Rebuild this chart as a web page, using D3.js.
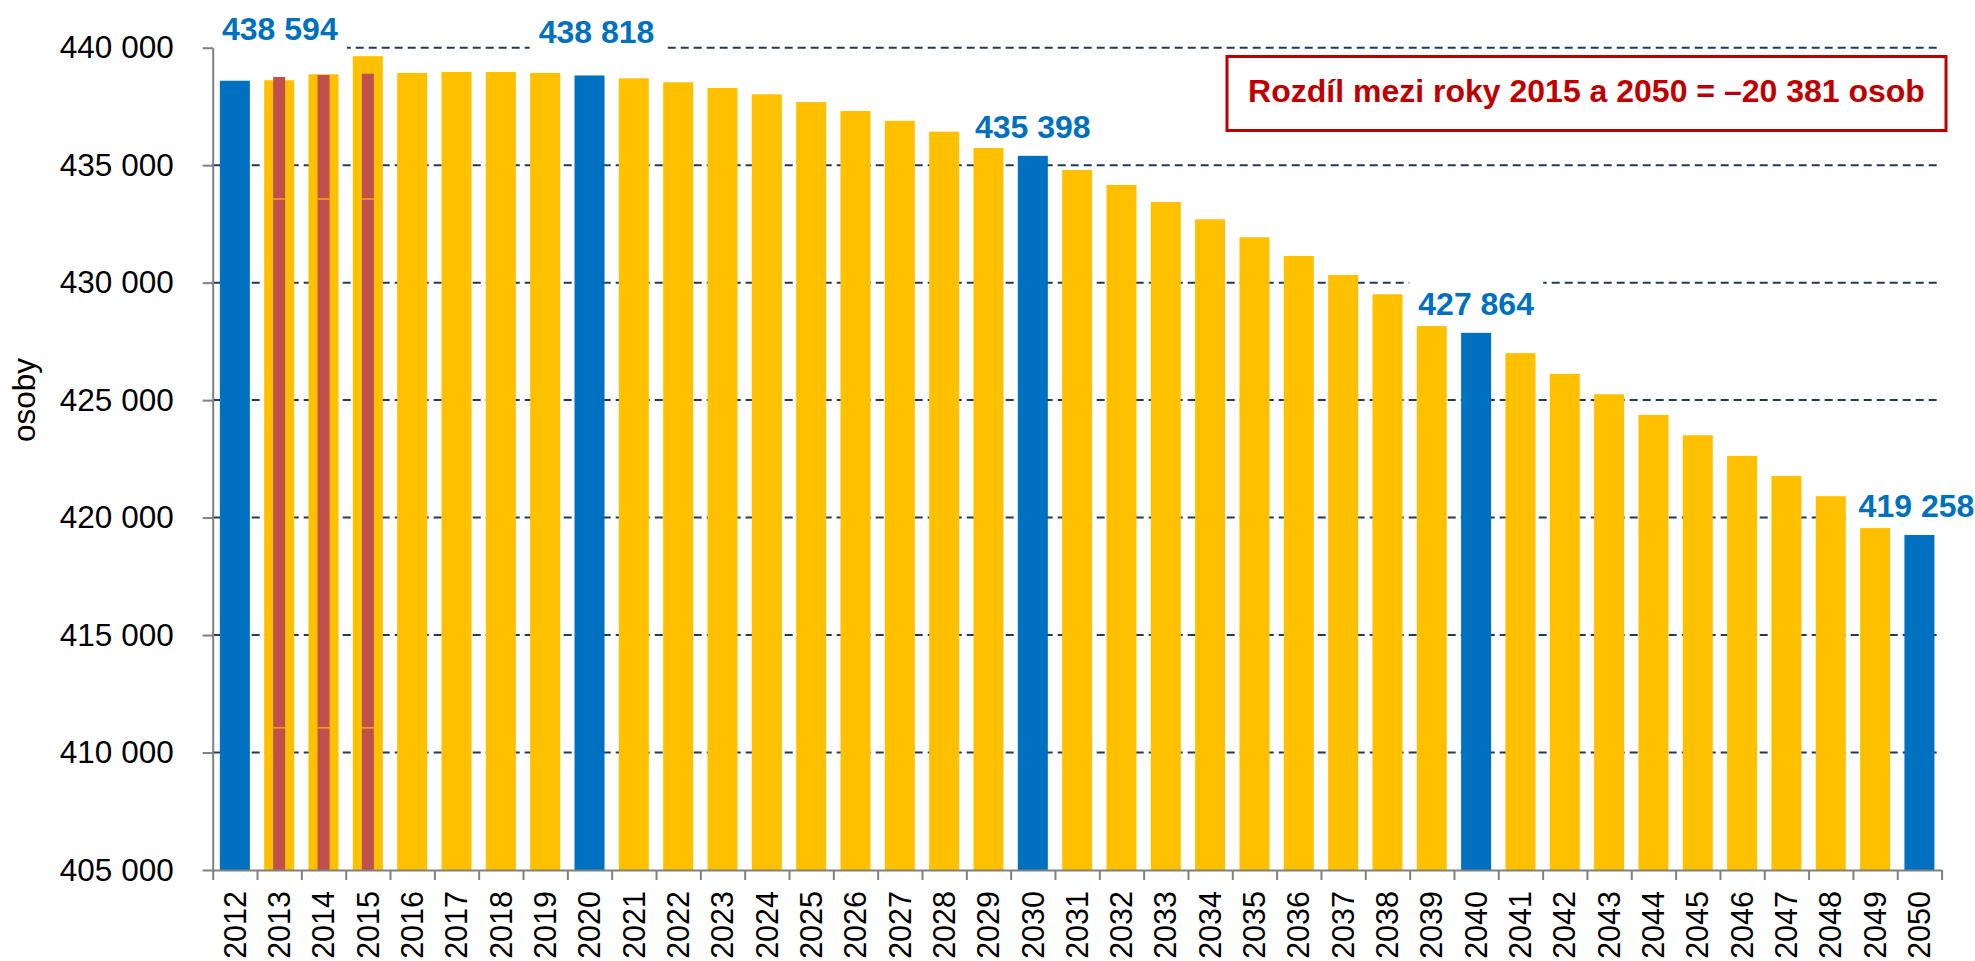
<!DOCTYPE html>
<html>
<head>
<meta charset="utf-8">
<script src="https://cdn.jsdelivr.net/npm/d3@7"></script>
<style>
  body { margin: 0; background: #fff; }
  svg { display: block; font-family: "Liberation Sans", Arial, sans-serif; }
</style>
</head>
<body>
<div id="chart"></div>
<script>
const years = d3.range(2012, 2051);
const population = [
  438594, 438613, 438868, 439639, 438923, 438966, 438966, 438923, 438818, 438698,
  438528, 438285, 438017, 437685, 437306, 436885, 436426, 435732, 435398, 434796,
  434157, 433434, 432697, 431931, 431136, 430327, 429506, 428157, 427864, 427000,
  426120, 425250, 424370, 423505, 422625, 421774, 420909, 419553, 419258
];
const highlightYears = [2012, 2020, 2030, 2040, 2050];
const stripeYears = [2013, 2014, 2015];
const stripeValues = [438753, 438838, 438894];
const stripeSeams = [433560, 411050];
const yTicks = [405000, 410000, 415000, 420000, 425000, 430000, 435000, 440000];
const note = "Rozdíl mezi roky 2015 a 2050 = –20 381 osob";

// label nudges (px) relative to default spot above the bar
const labelNudge = { 2012: [45, -23], 2020: [7, -14], 2030: [0, 0], 2040: [0, 0], 2050: [-3, 0] };

const width = 1975, height = 961;
const plot = { left: 212.7, right: 1941.6, top: 47.7, bottom: 870 };

const svg = d3.select('#chart')
  .append('svg')
    .attr('width', width)
    .attr('height', height);

const data = years.map((y, i) => ({ year: y, value: population[i] }));
const fmt = v => d3.format(',')(v).replace(/,/g, ' ');

const x = d3.scaleBand()
  .domain(years)
  .range([plot.left, plot.right])
  .paddingInner(0.323)
  .paddingOuter(0.1615);

const xIdx = d3.scaleLinear()
  .domain([0, years.length])
  .range([plot.left, plot.right]);

const y = d3.scaleLinear()
  .domain([405000, 440000])
  .range([plot.bottom, plot.top]);

// gridlines
svg.append('g')
  .selectAll('line')
  .data(yTicks.slice(1))
  .enter().append('line')
    .attr('x1', plot.left)
    .attr('x2', plot.right)
    .attr('y1', d => y(d))
    .attr('y2', d => y(d))
    .attr('stroke', '#1f3a60')
    .attr('stroke-width', 2)
    .attr('stroke-dasharray', '8,5');

// label boxes hide gridlines behind value labels
const labelData = data.filter(d => highlightYears.includes(d.year));
const labelX = d => x(d.year) + x.bandwidth() / 2 + labelNudge[d.year][0];
const labelY = d => y(d.value) - 18 + labelNudge[d.year][1];

const boxes = svg.append('g');

// bars
svg.append('g')
  .selectAll('rect')
  .data(data)
  .enter().append('rect')
    .attr('x', d => x(d.year))
    .attr('y', d => y(d.value))
    .attr('width', x.bandwidth())
    .attr('height', d => y(405000) - y(d.value))
    .attr('fill', d => highlightYears.includes(d.year) ? '#0070c0' : '#ffc000');

// red stripes over 2013-2015
const stripeW = 12;
const stripes = svg.append('g');
stripes.selectAll('rect')
  .data(stripeYears.map((yr, i) => ({ year: yr, value: stripeValues[i] })))
  .enter().append('rect')
    .attr('x', d => x(d.year) + x.bandwidth() / 2 - stripeW / 2)
    .attr('y', d => y(d.value))
    .attr('width', stripeW)
    .attr('height', d => y(405000) - y(d.value))
    .attr('fill', '#c0504d');

stripeYears.forEach(yr => {
  stripes.selectAll(null)
    .data(stripeSeams)
    .enter().append('line')
      .attr('x1', x(yr) + x.bandwidth() / 2 - stripeW / 2)
      .attr('x2', x(yr) + x.bandwidth() / 2 + stripeW / 2)
      .attr('y1', d => y(d))
      .attr('y2', d => y(d))
      .attr('stroke', '#ffc000')
      .attr('stroke-width', 1.2);
});

// value labels
const labels = svg.append('g')
  .selectAll('text')
  .data(labelData)
  .enter().append('text')
    .attr('x', labelX)
    .attr('y', labelY)
    .attr('text-anchor', 'middle')
    .attr('font-size', 32)
    .attr('font-weight', 'bold')
    .attr('fill', '#0070c0')
    .text(d => fmt(d.value));

labels.each(function() {
  const b = this.getBBox();
  boxes.append('rect')
    .attr('x', b.x - 9)
    .attr('y', b.y - 6)
    .attr('width', b.width + 18)
    .attr('height', b.height + 12)
    .attr('fill', '#fff');
});

// y axis
const yAxis = svg.append('g')
  .attr('transform', `translate(${plot.left},0)`)
  .call(d3.axisLeft(y).tickValues(yTicks).tickFormat(fmt).tickSize(10).tickPadding(29).tickSizeOuter(0));
yAxis.selectAll('text').attr('font-size', 31.5).attr('fill', '#000').attr('font-family', null);
yAxis.selectAll('line').attr('stroke', '#808080').attr('stroke-width', 2);
yAxis.select('.domain').attr('stroke', '#808080').attr('stroke-width', 2);

// x axis: ticks at category boundaries
const xTicks = svg.append('g')
  .attr('transform', `translate(0,${plot.bottom})`)
  .call(d3.axisBottom(xIdx).tickValues(d3.range(years.length + 1)).tickFormat('').tickSize(10).tickSizeOuter(0));
xTicks.selectAll('line').attr('stroke', '#808080').attr('stroke-width', 2);
xTicks.select('.domain').attr('stroke', '#808080').attr('stroke-width', 2);

const xAxis = svg.append('g')
  .attr('transform', `translate(0,${plot.bottom})`)
  .call(d3.axisBottom(x).tickSize(0).tickPadding(0));
xAxis.select('.domain').remove();
xAxis.selectAll('text')
  .attr('font-size', 30.5)
  .attr('font-family', null)
  .attr('fill', '#000')
  .attr('text-anchor', 'end')
  .attr('transform', 'rotate(-90)')
  .attr('x', -21)
  .attr('y', 0)
  .attr('dy', '0.35em');

// y axis title
svg.append('text')
  .attr('transform', 'translate(35,400) rotate(-90)')
  .attr('text-anchor', 'middle')
  .attr('font-size', 31.5)
  .attr('fill', '#000')
  .text('osoby');

// note box
const noteBox = svg.append('g');
noteBox.append('rect')
  .attr('x', 1227)
  .attr('y', 56.5)
  .attr('width', 719)
  .attr('height', 74)
  .attr('fill', '#fff')
  .attr('stroke', '#c00000')
  .attr('stroke-width', 3);
noteBox.append('text')
  .attr('x', 1586.5)
  .attr('y', 101.7)
  .attr('text-anchor', 'middle')
  .attr('font-size', 32)
  .attr('font-weight', 'bold')
  .attr('fill', '#c00000')
  .text(note);
</script>
</body>
</html>
